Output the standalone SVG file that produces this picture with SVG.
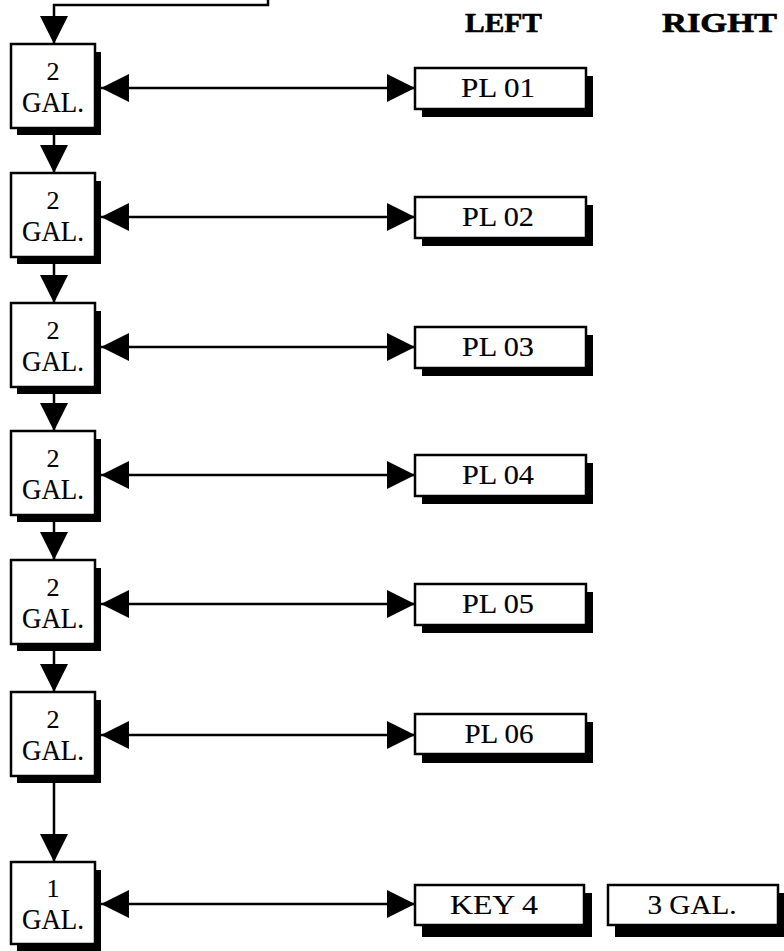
<svg xmlns="http://www.w3.org/2000/svg" width="784" height="951" viewBox="0 0 784 951">
<style>
  .box { fill: #ffffff; stroke: #000000; stroke-width: 2.5; }
  .shadow { fill: #000000; stroke: none; }
  .lbl { font-family: "Liberation Serif", "DejaVu Serif", serif; fill: #000000; stroke: #000000; stroke-width: 0.15; text-anchor: middle; }
  .num { font-size: 26px; }
  .gal { font-size: 29px; }
  .rt { font-size: 27px; }
  .head { font-family: "Liberation Serif", "DejaVu Serif", serif; font-weight: bold; font-size: 27px; fill: #000000; stroke: #000000; stroke-width: 0.6; }
  .conn { stroke: #000000; stroke-width: 2.5; fill: none; }
</style>
<defs>
  <marker id="ah" markerUnits="userSpaceOnUse" markerWidth="29" markerHeight="29" refX="28" refY="14" orient="auto-start-reverse" viewBox="0 0 29 29">
    <path d="M0,0 L28,14 L0,28 z" fill="#000000"/>
  </marker>
</defs>

<rect width="784" height="951" fill="#ffffff"/>

<text class="head" x="465" y="32" textLength="77" lengthAdjust="spacingAndGlyphs">LEFT</text>
<text class="head" x="662" y="32" textLength="115" lengthAdjust="spacingAndGlyphs">RIGHT</text>

<g id="connectors">
  <path class="conn" d="M268,0 L268,5 L54,5 L54,44" marker-end="url(#ah)"/>
  <line class="conn" x1="54" y1="135" x2="54" y2="173" marker-end="url(#ah)"/>
  <line class="conn" x1="54" y1="264" x2="54" y2="303" marker-end="url(#ah)"/>
  <line class="conn" x1="54" y1="394" x2="54" y2="431" marker-end="url(#ah)"/>
  <line class="conn" x1="54" y1="522" x2="54" y2="560" marker-end="url(#ah)"/>
  <line class="conn" x1="54" y1="651" x2="54" y2="692" marker-end="url(#ah)"/>
  <line class="conn" x1="54" y1="783" x2="54" y2="862" marker-end="url(#ah)"/>

  <line class="conn" x1="101" y1="88" x2="415" y2="88" marker-start="url(#ah)" marker-end="url(#ah)"/>
  <line class="conn" x1="101" y1="217" x2="415" y2="217" marker-start="url(#ah)" marker-end="url(#ah)"/>
  <line class="conn" x1="101" y1="347" x2="415" y2="347" marker-start="url(#ah)" marker-end="url(#ah)"/>
  <line class="conn" x1="101" y1="475" x2="415" y2="475" marker-start="url(#ah)" marker-end="url(#ah)"/>
  <line class="conn" x1="101" y1="604" x2="415" y2="604" marker-start="url(#ah)" marker-end="url(#ah)"/>
  <line class="conn" x1="101" y1="735" x2="415" y2="735" marker-start="url(#ah)" marker-end="url(#ah)"/>
  <line class="conn" x1="101" y1="904" x2="415" y2="904" marker-start="url(#ah)" marker-end="url(#ah)"/>
</g>

<g id="g1">
  <rect class="shadow" x="17" y="52" width="84" height="83"/>
  <rect class="box" x="11" y="44" width="84" height="84"/>
  <text class="lbl num" x="53" y="80">2</text>
  <text class="lbl gal" x="53" y="112" textLength="62" lengthAdjust="spacingAndGlyphs">GAL.</text>
</g>
<g id="g2">
  <rect class="shadow" x="17" y="181" width="84" height="83"/>
  <rect class="box" x="11" y="173" width="84" height="84"/>
  <text class="lbl num" x="53" y="209">2</text>
  <text class="lbl gal" x="53" y="241" textLength="62" lengthAdjust="spacingAndGlyphs">GAL.</text>
</g>
<g id="g3">
  <rect class="shadow" x="17" y="311" width="84" height="83"/>
  <rect class="box" x="11" y="303" width="84" height="84"/>
  <text class="lbl num" x="53" y="339">2</text>
  <text class="lbl gal" x="53" y="371" textLength="62" lengthAdjust="spacingAndGlyphs">GAL.</text>
</g>
<g id="g4">
  <rect class="shadow" x="17" y="439" width="84" height="83"/>
  <rect class="box" x="11" y="431" width="84" height="84"/>
  <text class="lbl num" x="53" y="467">2</text>
  <text class="lbl gal" x="53" y="499" textLength="62" lengthAdjust="spacingAndGlyphs">GAL.</text>
</g>
<g id="g5">
  <rect class="shadow" x="17" y="568" width="84" height="83"/>
  <rect class="box" x="11" y="560" width="84" height="84"/>
  <text class="lbl num" x="53" y="596">2</text>
  <text class="lbl gal" x="53" y="628" textLength="62" lengthAdjust="spacingAndGlyphs">GAL.</text>
</g>
<g id="g6">
  <rect class="shadow" x="17" y="700" width="84" height="83"/>
  <rect class="box" x="11" y="692" width="84" height="84"/>
  <text class="lbl num" x="53" y="728">2</text>
  <text class="lbl gal" x="53" y="760" textLength="62" lengthAdjust="spacingAndGlyphs">GAL.</text>
</g>
<g id="g7">
  <rect class="shadow" x="17" y="870" width="84" height="81"/>
  <rect class="box" x="11" y="862" width="84" height="82"/>
  <text class="lbl num" x="53" y="897">1</text>
  <text class="lbl gal" x="53" y="929" textLength="62" lengthAdjust="spacingAndGlyphs">GAL.</text>
</g>

<g id="pl01">
  <rect class="shadow" x="422" y="76" width="171" height="41"/>
  <rect class="box" x="415" y="68" width="171" height="41"/>
  <text class="lbl rt" x="498" y="97" textLength="74" lengthAdjust="spacingAndGlyphs">PL 01</text>
</g>
<g id="pl02">
  <rect class="shadow" x="422" y="205" width="171" height="41"/>
  <rect class="box" x="415" y="197" width="171" height="41"/>
  <text class="lbl rt" x="498" y="226" textLength="72" lengthAdjust="spacingAndGlyphs">PL 02</text>
</g>
<g id="pl03">
  <rect class="shadow" x="422" y="335" width="171" height="41"/>
  <rect class="box" x="415" y="327" width="171" height="41"/>
  <text class="lbl rt" x="498" y="356" textLength="72" lengthAdjust="spacingAndGlyphs">PL 03</text>
</g>
<g id="pl04">
  <rect class="shadow" x="422" y="463" width="171" height="41"/>
  <rect class="box" x="415" y="455" width="171" height="41"/>
  <text class="lbl rt" x="498" y="484" textLength="72" lengthAdjust="spacingAndGlyphs">PL 04</text>
</g>
<g id="pl05">
  <rect class="shadow" x="422" y="592" width="171" height="41"/>
  <rect class="box" x="415" y="584" width="171" height="41"/>
  <text class="lbl rt" x="498" y="613" textLength="72" lengthAdjust="spacingAndGlyphs">PL 05</text>
</g>
<g id="pl06">
  <rect class="shadow" x="422" y="722" width="171" height="41"/>
  <rect class="box" x="415" y="714" width="171" height="40"/>
  <text class="lbl rt" x="499" y="743" textLength="69" lengthAdjust="spacingAndGlyphs">PL 06</text>
</g>
<g id="key4">
  <rect class="shadow" x="422" y="893" width="170" height="44"/>
  <rect class="box" x="415" y="885" width="169" height="40"/>
  <text class="lbl rt" x="494" y="914" textLength="88" lengthAdjust="spacingAndGlyphs">KEY 4</text>
</g>
<g id="gal3">
  <rect class="shadow" x="615" y="893" width="169" height="44"/>
  <rect class="box" x="608" y="885" width="170" height="40"/>
  <text class="lbl rt" x="692" y="914" textLength="89" lengthAdjust="spacingAndGlyphs">3 GAL.</text>
</g>
</svg>
